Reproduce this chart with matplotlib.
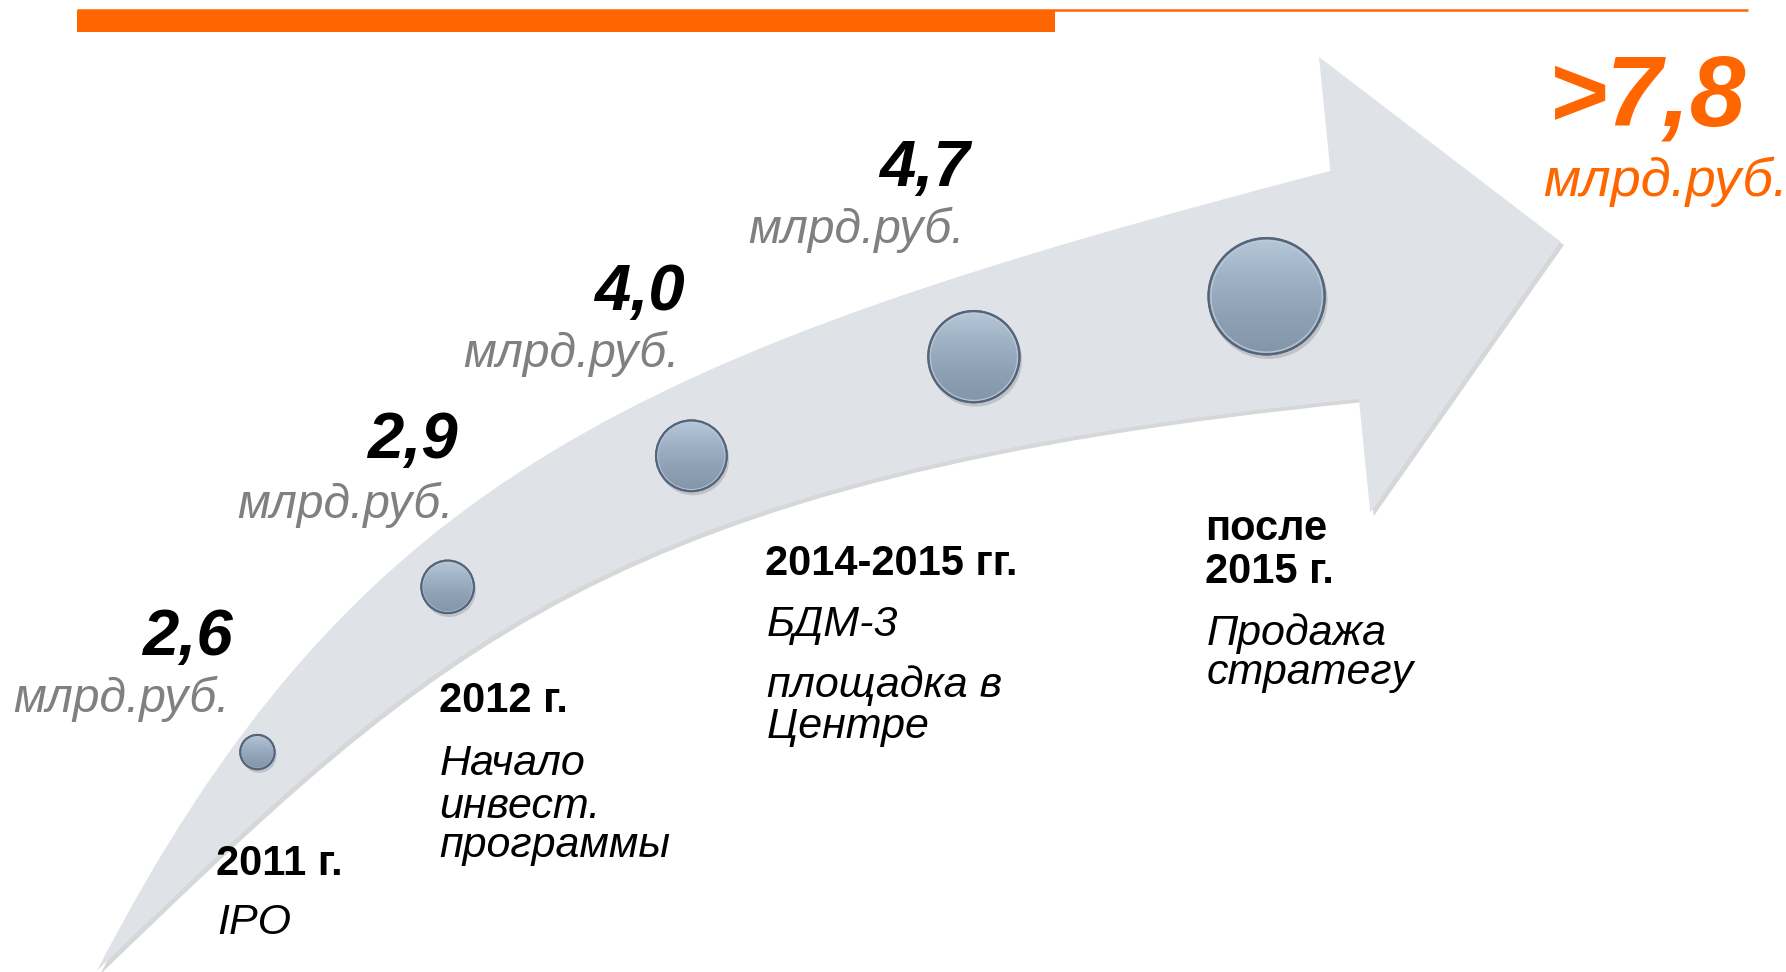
import numpy as np
import matplotlib
matplotlib.use("Agg")
import matplotlib.pyplot as plt
from matplotlib.path import Path
from matplotlib.patches import PathPatch, Circle, Rectangle
from matplotlib.colors import LinearSegmentedColormap

plt.rcParams['font.family'] = ['Liberation Sans', 'DejaVu Sans']

# ---- data ----
values = ["2,6", "2,9", "4,0", "4,7"]
final_value = ">7,8"
unit = "млрд.руб."
years = ["2011 г.", "2012 г.", "2014-2015 гг.", "после\n2015 г."]
events = [["IPO"], ["Начало", "инвест.", "программы"], ["БДМ-3", "площадка в", "Центре"], ["Продажа", "стратегу"]]

ORANGE = "#FF6600"
GREY_TXT = "#808080"
ARROW = "#DFE2E7"

W, H = 1568, 853
fig = plt.figure(figsize=(17.86, 9.72), dpi=100)
ax = fig.add_axes([0, 0, 1, 1])
ax.set_xlim(0, W)
ax.set_ylim(H, 0)
ax.axis("off")

# top orange bar
ax.add_patch(Rectangle((68, 9), 858, 19, color=ORANGE, lw=0, zorder=2))
ax.plot([68, 1535], [8.5, 8.5], color=ORANGE, lw=1.8, zorder=2, solid_capstyle='butt')

# curved arrow
verts = [(85, 852), (309, 420), (554, 310), (1168, 150),
         (1158, 50), (1370, 212), (1203, 450), (1193, 350),
         (528, 416.5), (379, 569.5), (85, 852), (85, 852)]
codes = [Path.MOVETO, Path.CURVE4, Path.CURVE4, Path.CURVE4,
         Path.LINETO, Path.LINETO, Path.LINETO, Path.LINETO,
         Path.CURVE4, Path.CURVE4, Path.CURVE4, Path.CLOSEPOLY]
shadow = [(x + 3, y + 3) for x, y in verts]
ax.add_patch(PathPatch(Path(shadow, codes), facecolor="#c4c6ca", edgecolor="none", alpha=0.7, zorder=3))
ax.add_patch(PathPatch(Path(verts, codes), facecolor=ARROW, edgecolor="none", zorder=4))

# spheres (buttons)
centers = [(226, 660, 15), (393, 515, 23), (607, 400, 31), (855, 313, 40), (1112, 260, 51)]
grad = np.linspace(0, 1, 256).reshape(-1, 1)
cmap = LinearSegmentedColormap.from_list("btn", ["#b6c8d9", "#a0b3c6", "#8ea1b5", "#8395a9"])
for cx, cy, r in centers:
    ax.add_patch(Circle((cx + 1.5, cy + 3), r * 1.02, color="#9a9ea4", alpha=0.45, lw=0, zorder=5))
    base = Circle((cx, cy), r, facecolor="#8fa2b5", edgecolor="#5f6d7d", lw=1.6, zorder=6)
    ax.add_patch(base)
    im = ax.imshow(grad, extent=(cx - r, cx + r, cy + r, cy - r), cmap=cmap, aspect='auto', zorder=7)
    clip = Circle((cx, cy), r * 0.96, transform=ax.transData)
    im.set_clip_path(clip)
    ax.add_patch(Circle((cx, cy), r * 0.96, facecolor="none", edgecolor="#c6d5e3", lw=1.0, alpha=0.7, zorder=8))
    ax.add_patch(Circle((cx, cy), r, facecolor="none", edgecolor="#56647a", lw=1.5, zorder=9))
ax.set_xlim(0, W)
ax.set_ylim(H, 0)

# value labels
val_pos = [(125, 575), (322, 402), (522, 272), (772, 163)]
unit_pos = [(12, 625), (208, 455), (407, 322), (657, 213)]
for v, (x, y) in zip(values, val_pos):
    ax.text(x, y, v, fontsize=47, fontweight='bold', fontstyle='italic', color='black',
            ha='left', va='baseline', zorder=10)
for (x, y) in unit_pos:
    ax.text(x, y, unit, fontsize=34.5, fontstyle='italic', color=GREY_TXT,
            ha='left', va='baseline', zorder=10)

ax.text(1360, 110, final_value, fontsize=72, fontweight='bold', fontstyle='italic', color=ORANGE,
        ha='left', va='baseline', zorder=10)
ax.text(1355, 172, unit, fontsize=39, fontstyle='italic', color=ORANGE,
        ha='left', va='baseline', zorder=10)

# year / event labels
year_pos = [(190, [768]), (385, [625]), (672, [505]), (1058, [474, 512])]
event_base = [[820], [680, 718, 752], [558, 612, 648], [566, 600]]
for yr, (x, ys), ev, eys in zip(years, year_pos, events, event_base):
    for line, yy in zip(yr.split("\n"), ys):
        ax.text(x, yy, line, fontsize=30, fontweight='bold', color='black',
                ha='left', va='baseline', zorder=10)
    for line, yy in zip(ev, eys):
        ax.text(x + 1, yy, line, fontsize=31, fontstyle='italic', color='black',
                ha='left', va='baseline', zorder=10)

fig.savefig("out.png", dpi=100, facecolor='white')
